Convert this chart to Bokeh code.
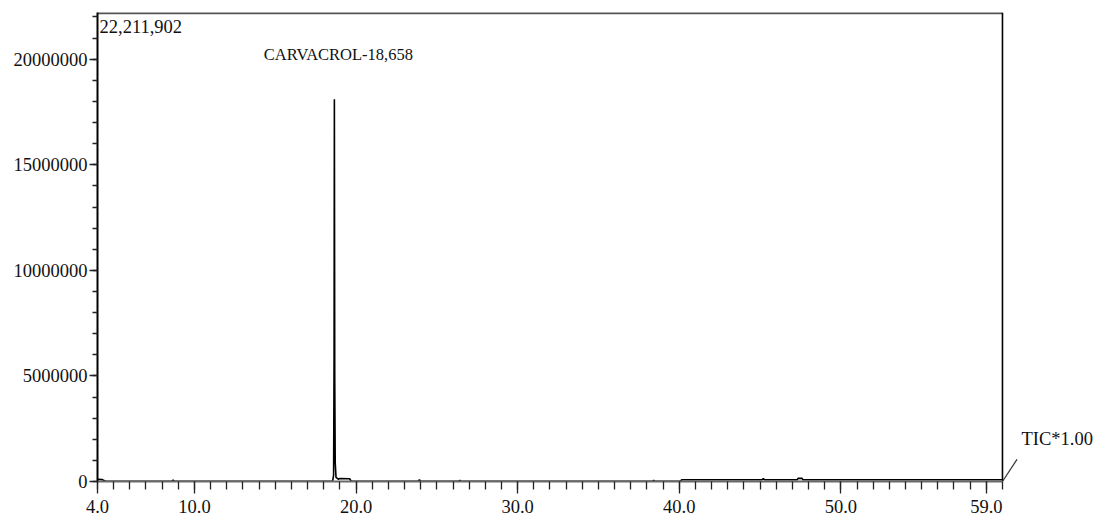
from bokeh.plotting import figure
from bokeh.models import FixedTicker, Label, Arrow, Range1d, ColumnDataSource
from bokeh.embed import file_html
from bokeh.resources import INLINE

# ---- data ----
rt = [4.00, 4.30, 4.50, 8.60, 8.68, 8.76, 18.55, 18.61, 18.64, 18.658, 18.68,
      18.71, 18.76, 18.90, 19.00, 19.60, 19.70, 23.85, 23.92, 23.99, 26.35,
      26.42, 26.49, 38.35, 38.42, 38.49, 40.05, 40.15, 45.10, 45.20, 45.30,
      47.30, 47.35, 47.60, 47.65, 60.00]
intensity = [110000, 90000, 10000, 10000, 70000, 10000, 15000, 300000, 6000000,
             18100000, 5000000, 900000, 200000, 110000, 140000, 130000, 10000,
             10000, 90000, 10000, 10000, 60000, 10000, 10000, 60000, 10000,
             10000, 80000, 80000, 130000, 80000, 80000, 150000, 150000, 80000,
             80000]

peak_rt = [18.658]
peak_height = [18100000]
peak_name = ["CARVACROL"]

y_max = 22211902
x_start, x_end = 4.0, 60.0
x_view_end = 65.88          # room to the right of the trace for the TIC label
x_tick_values = [4, 10, 20, 30, 40, 50, 59]
x_tick_labels = ["4.0", "10.0", "20.0", "30.0", "40.0", "50.0", "59.0"]
y_tick_values = [0, 5000000, 10000000, 15000000, 20000000]
y_tick_labels = ["0", "5000000", "10000000", "15000000", "20000000"]
trace_label = "TIC*1.00"

FONT = "Liberation Serif"

p = figure(width=1099, height=521, output_backend="svg", toolbar_location=None,
           x_range=Range1d(x_start, x_view_end), y_range=Range1d(0, y_max),
           min_border_left=97, min_border_right=2, min_border_top=12,
           min_border_bottom=40)
p.grid.visible = False
p.background_fill_color = "white"
p.border_fill_color = "white"
p.outline_line_color = None

src = ColumnDataSource(dict(rt=rt, intensity=intensity))
p.line("rt", "intensity", source=src, line_color="black", line_width=1.6)

# frame: top and right borders of the trace window
p.segment(x0=[x_start], y0=[y_max], x1=[x_end], y1=[y_max],
          line_color="#555555", line_width=3.5)
p.segment(x0=[x_end], y0=[0], x1=[x_end], y1=[y_max],
          line_color="black", line_width=1.6)

# x axis
xa = p.xaxis[0]
xa.bounds = (x_start, x_end)
xa.ticker = FixedTicker(ticks=x_tick_values, minor_ticks=list(range(4, 61)))
xa.major_label_overrides = {v: l for v, l in zip(x_tick_values, x_tick_labels)}
xa.axis_line_color = "#6a6a6a"
xa.axis_line_width = 2
xa.major_tick_line_color = "#222222"
xa.minor_tick_line_color = "#222222"
xa.major_tick_line_width = 1.3
xa.minor_tick_line_width = 1.3
xa.major_tick_out = 12
xa.major_tick_in = 0
xa.minor_tick_out = 8
xa.minor_tick_in = 0
xa.major_label_standoff = 6
xa.major_label_text_font = FONT
xa.major_label_text_font_size = "18.5px"
xa.major_label_text_color = "#111111"
xa.level = "overlay"

# y axis
ya = p.yaxis[0]
ya.ticker = FixedTicker(ticks=y_tick_values,
                        minor_ticks=[i * 1000000 for i in range(0, 23)])
ya.major_label_overrides = {v: l for v, l in zip(y_tick_values, y_tick_labels)}
ya.axis_line_color = "black"
ya.axis_line_width = 2
ya.major_tick_line_color = "#222222"
ya.minor_tick_line_color = "#222222"
ya.major_tick_line_width = 1.3
ya.minor_tick_line_width = 1.3
ya.major_tick_out = 8
ya.major_tick_in = 0
ya.minor_tick_out = 5
ya.minor_tick_in = 0
ya.major_label_standoff = 2
ya.major_label_text_font = FONT
ya.major_label_text_font_size = "18.5px"
ya.major_label_text_color = "#111111"
ya.level = "overlay"

# max intensity label (top-left)
p.add_layout(Label(x=x_start, y=y_max, x_offset=2, y_offset=-7,
                   text=f"{y_max:,}", text_font=FONT, text_font_size="18.5px",
                   text_baseline="top", text_align="left", text_color="#111111"))

# peak labels
for prt, ph, name in zip(peak_rt, peak_height, peak_name):
    txt = f"{name}-{prt:.3f}".replace(".", ",")
    p.add_layout(Label(x=prt, y=y_max, x_offset=4, y_offset=-42, text=txt,
                       text_font=FONT, text_font_size="16.5px",
                       text_align="center", text_baseline="middle",
                       text_color="#111111"))

# trace label at the right end
p.add_layout(Arrow(end=None, x_start=x_end, y_start=0,
                   x_end=x_end + 0.9, y_end=1050000,
                   line_color="#333333", line_width=1.2))
p.add_layout(Label(x=x_end, y=0, x_offset=19, y_offset=43, text=trace_label,
                   text_font=FONT, text_font_size="18.5px", text_align="left",
                   text_baseline="middle", text_color="#111111"))

open("out.html", "w").write(file_html(p, INLINE))
